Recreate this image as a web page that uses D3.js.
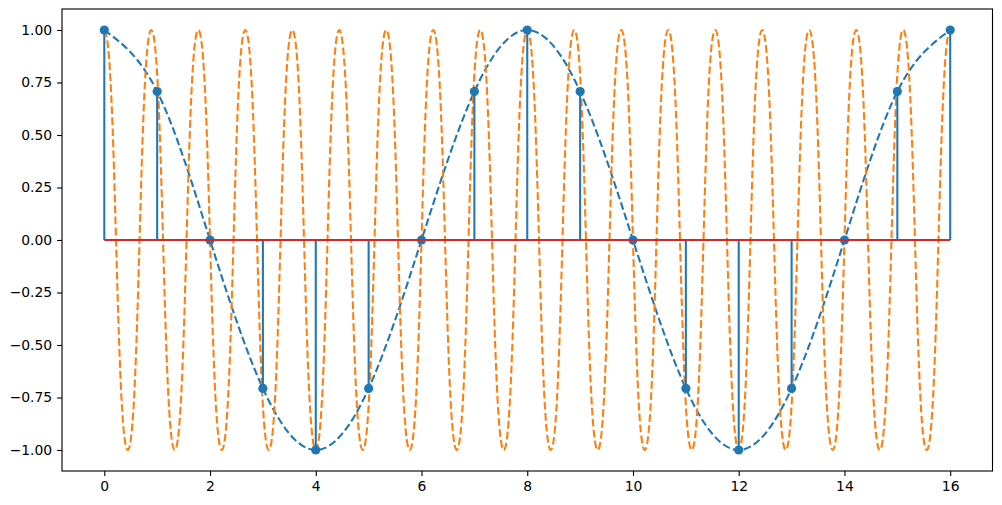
<!DOCTYPE html>
<meta charset="utf-8">
<style>
body { margin: 0; background: #fff; }
text { font-family: "DejaVu Sans", sans-serif; }
</style>
<body>
<script src="https://d3js.org/d3.v7.min.js"></script>
<script>

// sampled stem values at n = 0..16
var stemN = d3.range(0, 17);
var stemValues = [1, 0.707, 0, -0.707, -1, -0.707, 0, 0.707, 1, 0.707, 0, -0.707, -1, -0.707, 0, 0.707, 1];

// blue dashed curve: passes through the samples
var blueT = stemN;
var blueValues = stemValues;

// orange dashed curve: peaks and troughs
var orangeT = [0, 0.444, 0.889, 1.333, 1.778, 2.222, 2.667, 3.111, 3.556,
               4, 4.444, 4.889, 5.333, 5.778, 6.222, 6.667, 7.111, 7.556,
               8, 8.444, 8.889, 9.333, 9.778, 10.222, 10.667, 11.111, 11.556,
               12, 12.444, 12.889, 13.333, 13.778, 14.222, 14.667, 15.111, 15.556, 16];
var orangeValues = [1, -1, 1, -1, 1, -1, 1, -1, 1,
                    -1, 1, -1, 1, -1, 1, -1, 1, -1,
                    1, -1, 1, -1, 1, -1, 1, -1, 1,
                    -1, 1, -1, 1, -1, 1, -1, 1, -1, 1];

var xTicks = [0, 2, 4, 6, 8, 10, 12, 14, 16];
var yTicks = [-1, -0.75, -0.5, -0.25, 0, 0.25, 0.5, 0.75, 1];

var W = 1002, H = 505;
var margin = {top: 9, right: 9.5, bottom: 34, left: 62},
    width = W - margin.left - margin.right,
    height = H - margin.top - margin.bottom;

var x = d3.scaleLinear().domain([-0.8, 16.8]).range([0, width]);
var y = d3.scaleLinear().domain([-1.1, 1.1]).range([height, 0]);

var svg = d3.select("body").append("svg")
    .attr("width", W)
    .attr("height", H)
  .append("g")
    .attr("transform", "translate(" + margin.left + "," + margin.top + ")");

// matplotlib line width 1.5pt at 100 dpi
var lw = 2.08, dash = "7.7,3.33";

var line = d3.line()
    .x(function(d) { return x(d[0]); })
    .y(function(d) { return y(d[1]); });

// dashed curves
svg.append("path")
    .datum(d3.zip(blueT, blueValues))
    .attr("fill", "none")
    .attr("stroke", "#1f77b4")
    .attr("stroke-width", lw)
    .attr("stroke-dasharray", dash)
    .attr("d", line.curve(d3.curveNatural));

svg.append("path")
    .datum(d3.zip(orangeT, orangeValues))
    .attr("fill", "none")
    .attr("stroke", "#ff7f0e")
    .attr("stroke-width", lw)
    .attr("stroke-dasharray", dash)
    .attr("d", line.curve(d3.curveBumpX));

// stems
svg.selectAll(".stem")
    .data(d3.zip(stemN, stemValues))
  .enter().append("line")
    .attr("class", "stem")
    .attr("x1", function(d) { return x(d[0]); })
    .attr("x2", function(d) { return x(d[0]); })
    .attr("y1", y(0))
    .attr("y2", function(d) { return y(d[1]); })
    .attr("stroke", "#1f77b4")
    .attr("stroke-width", lw);

// markers
svg.selectAll(".dot")
    .data(d3.zip(stemN, stemValues))
  .enter().append("circle")
    .attr("class", "dot")
    .attr("cx", function(d) { return x(d[0]); })
    .attr("cy", function(d) { return y(d[1]); })
    .attr("r", 4.6)
    .attr("fill", "#1f77b4");

// baseline
svg.append("line")
    .attr("x1", x(stemN[0]))
    .attr("x2", x(stemN[stemN.length - 1]))
    .attr("y1", y(0))
    .attr("y2", y(0))
    .attr("stroke", "#d62728")
    .attr("stroke-width", lw);

// axes
var xAxis = svg.append("g")
    .attr("transform", "translate(0," + height + ")")
    .call(d3.axisBottom(x).tickValues(xTicks).tickSize(4.9).tickPadding(4.9).tickFormat(d3.format("d")));

var yAxis = svg.append("g")
    .call(d3.axisLeft(y).tickValues(yTicks).tickSize(4.9).tickPadding(4.9).tickFormat(d3.format(".2f")));

[xAxis, yAxis].forEach(function(a) {
  a.select(".domain").remove();
  a.selectAll("line").attr("stroke", "#000").attr("stroke-width", 1.11);
  a.selectAll("text").attr("font-size", "13.9px").attr("fill", "#000")
    .attr("font-family", "DejaVu Sans, sans-serif");
});
yAxis.selectAll("text").text(function(d) { return d3.format(".2f")(d).replace("-", "\u2212"); });

// frame
svg.append("rect")
    .attr("width", width)
    .attr("height", height)
    .attr("fill", "none")
    .attr("stroke", "#000")
    .attr("stroke-width", 1.11);

</script>
</body>
